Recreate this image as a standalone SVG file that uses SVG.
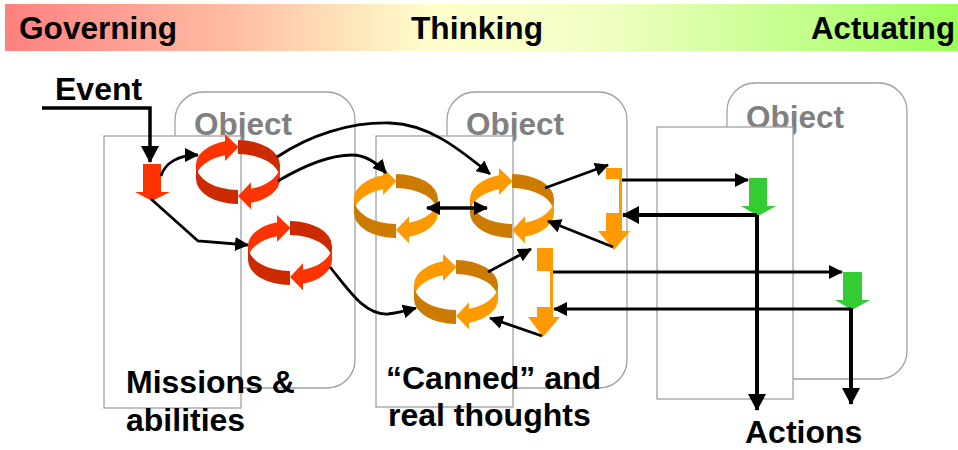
<svg xmlns="http://www.w3.org/2000/svg" width="958" height="450" viewBox="0 0 958 450">
  <style>
    text { font-family: "Liberation Sans", Arial, sans-serif; font-weight: bold; }
    .hdr { font-size: 31px; fill: #000; }
    .lbl { font-size: 32px; fill: #000; }
    .objname { font-size: 31.5px; fill: #808080; }
    .frame { fill: #fff; stroke: #a0a0a0; stroke-width: 1.3; }
    .back { fill: #fff; stroke: #a0a0a0; stroke-width: 1.3; }
    .ln { fill: none; stroke: #000; stroke-width: 2.8; }
    .thick { fill: none; stroke: #000; stroke-width: 4; }
    .red { fill: #ff3300; }
    .orange { fill: #ff9900; }
    .green { fill: #33cc33; }
  </style>
  <defs>
    <linearGradient id="band" x1="0" y1="0" x2="1" y2="0">
      <stop offset="0" stop-color="#ff8080"/>
      <stop offset="0.22" stop-color="#ffb8a0"/>
      <stop offset="0.45" stop-color="#ffffcc"/>
      <stop offset="0.62" stop-color="#f2ffc4"/>
      <stop offset="0.85" stop-color="#c0ff88"/>
      <stop offset="1" stop-color="#99ff55"/>
    </linearGradient>
    <marker id="arr" viewBox="0 0 14 14" markerWidth="14" markerHeight="14" refX="13" refY="7" orient="auto-start-reverse" markerUnits="userSpaceOnUse">
      <path d="M0,0 L14,7 L0,14 Z" fill="#000"/>
    </marker>
    <marker id="arrL" viewBox="0 0 17 18" markerWidth="17" markerHeight="18" refX="16" refY="9" orient="auto" markerUnits="userSpaceOnUse">
      <path d="M0,0 L17,9 L0,18 Z" fill="#000"/>
    </marker>
    <!-- ribbon ring of two curved arrows; fill = light side, color = dark side -->
    <g id="cycle">
      <path d="M -42 0 A 42 25 0 0 1 -13 -23.77 L -13 -9.77 A 42 25 0 0 0 -42 14 Z"/>
      <path d="M -13 -31 L 0.5 -18 L -13 -4 Z"/>
      <path d="M 0 -25 A 42 25 0 0 1 42 0 L 42 14 A 42 25 0 0 0 0 -11 Z" fill="currentColor"/>
      <path d="M 0 25 A 42 25 0 0 1 -42 0 L -42 14 A 42 25 0 0 0 0 39 Z" fill="currentColor"/>
      <path d="M 42 0 A 42 25 0 0 1 13 23.77 L 13 37.77 A 42 25 0 0 0 42 14 Z"/>
      <path d="M 13 17.3 L 0 31 L 13 44.3 Z"/>
    </g>
  </defs>

  <!-- header band -->
  <g id="header">
    <rect x="5" y="4" width="953" height="47" fill="url(#band)"/>
    <text class="hdr" x="19" y="39" textLength="158" lengthAdjust="spacingAndGlyphs">Governing</text>
    <text class="hdr" x="411" y="39" textLength="132" lengthAdjust="spacingAndGlyphs">Thinking</text>
    <text class="hdr" x="811" y="39" textLength="144" lengthAdjust="spacingAndGlyphs">Actuating</text>
  </g>

  <!-- objects -->
  <g id="object-governing">
    <rect class="back" x="175" y="92" width="180" height="296" rx="28"/>
    <text class="objname" x="194" y="135">Object</text>
    <rect class="frame" x="104" y="136" width="137" height="272"/>
  </g>
  <g id="object-thinking">
    <rect class="back" x="447" y="92" width="180" height="296" rx="28"/>
    <text class="objname" x="466" y="135">Object</text>
    <rect class="frame" x="376" y="136" width="137" height="271"/>
  </g>
  <g id="object-actuating">
    <rect class="back" x="727" y="83" width="180" height="296" rx="28"/>
    <text class="objname" x="746" y="128">Object</text>
    <rect class="frame" x="657" y="127" width="136" height="272"/>
  </g>

  <!-- labels -->
  <g id="labels">
    <text class="lbl" x="55" y="100">Event</text>
    <text class="lbl" x="126" y="393">Missions &amp;</text>
    <text class="lbl" x="126" y="431">abilities</text>
    <text class="lbl" x="386" y="389">“Canned” and</text>
    <text class="lbl" x="388" y="426">real thoughts</text>
    <text class="lbl" x="745" y="443">Actions</text>
  </g>

  <!-- governing layer -->
  <g id="event-trigger">
    <polygon class="red" points="143,164 161,164 161,192 170,192 152,201 135,192 143,192"/>
  </g>
  <g id="mission-cycle-1">
    <use href="#cycle" x="238" y="165" fill="#ff3300" color="#cc2a00"/>
  </g>
  <g id="mission-cycle-2">
    <use href="#cycle" x="290" y="246" fill="#ff3300" color="#cc2a00"/>
  </g>

  <!-- thinking layer -->
  <g id="thought-cycle-1">
    <use href="#cycle" x="396" y="199" fill="#ff9900" color="#cc7a00"/>
  </g>
  <g id="thought-cycle-2">
    <use href="#cycle" x="512" y="199" fill="#ff9900" color="#cc7a00"/>
  </g>
  <g id="thought-cycle-3">
    <use href="#cycle" x="456" y="285" fill="#ff9900" color="#cc7a00"/>
  </g>
  <g id="dispatch-1">
    <rect class="orange" x="606" y="168" width="16" height="11"/>
    <rect class="orange" x="619" y="179" width="3" height="34"/>
    <polygon class="orange" points="606,213 622,213 622,231 630,231 614,250 598,231 606,231"/>
  </g>
  <g id="dispatch-2">
    <rect class="orange" x="537" y="248" width="16" height="23"/>
    <rect class="orange" x="550" y="271" width="3" height="36"/>
    <polygon class="orange" points="537,307 553,307 553,317 560,317 543,337 528,317 537,317"/>
  </g>

  <!-- actuating layer -->
  <g id="actuator-1">
    <polygon class="green" points="749,178 767,178 767,206 776,206 758,216 741,206 749,206"/>
  </g>
  <g id="actuator-2">
    <polygon class="green" points="843,272 862,272 862,300 870,300 852,310 835,300 843,300"/>
  </g>

  <!-- connectors -->
  <g id="connectors">
    <path d="M 42 108 H 150 V 162" fill="none" stroke="#000" stroke-width="3.5" marker-end="url(#arrL)"/>
    <path class="ln" d="M 161 176 C 165 163, 178 155, 198 155" marker-end="url(#arr)"/>
    <path class="ln" d="M 151 199 L 198 241 L 248 245" marker-end="url(#arr)"/>
    <path class="ln" d="M 277 157 C 310 135, 350 122, 390 123 C 428 124, 458 148, 490 174" marker-end="url(#arr)"/>
    <path class="ln" d="M 278 181 C 305 165, 330 155, 352 155 C 366 155, 377 163, 386 173" marker-end="url(#arr)"/>
    <path class="ln" d="M 330 267 C 350 292, 365 315, 388 314 C 398 313, 405 311, 416 308" marker-end="url(#arr)"/>
    <path d="M 427 208 H 487" fill="none" stroke="#000" stroke-width="3.4" marker-start="url(#arr)" marker-end="url(#arr)"/>
    <path class="ln" d="M 545 188 L 608 165" marker-end="url(#arr)"/>
    <path class="ln" d="M 613 247 L 548 221" marker-end="url(#arr)"/>
    <path class="ln" d="M 488 272 L 531 249" marker-end="url(#arr)"/>
    <path class="ln" d="M 542 336 L 490 318" marker-end="url(#arr)"/>
    <path class="ln" d="M 622 180 H 748" marker-end="url(#arr)"/>
    <path class="thick" d="M 757 215 H 623" marker-end="url(#arrL)"/>
    <path class="thick" d="M 757 215 V 410" marker-end="url(#arrL)"/>
    <path class="ln" d="M 553 272 H 842" marker-end="url(#arr)"/>
    <path class="ln" d="M 851 309 H 554" marker-end="url(#arr)"/>
    <path class="thick" d="M 851 308 V 404" marker-end="url(#arrL)"/>
  </g>
</svg>
